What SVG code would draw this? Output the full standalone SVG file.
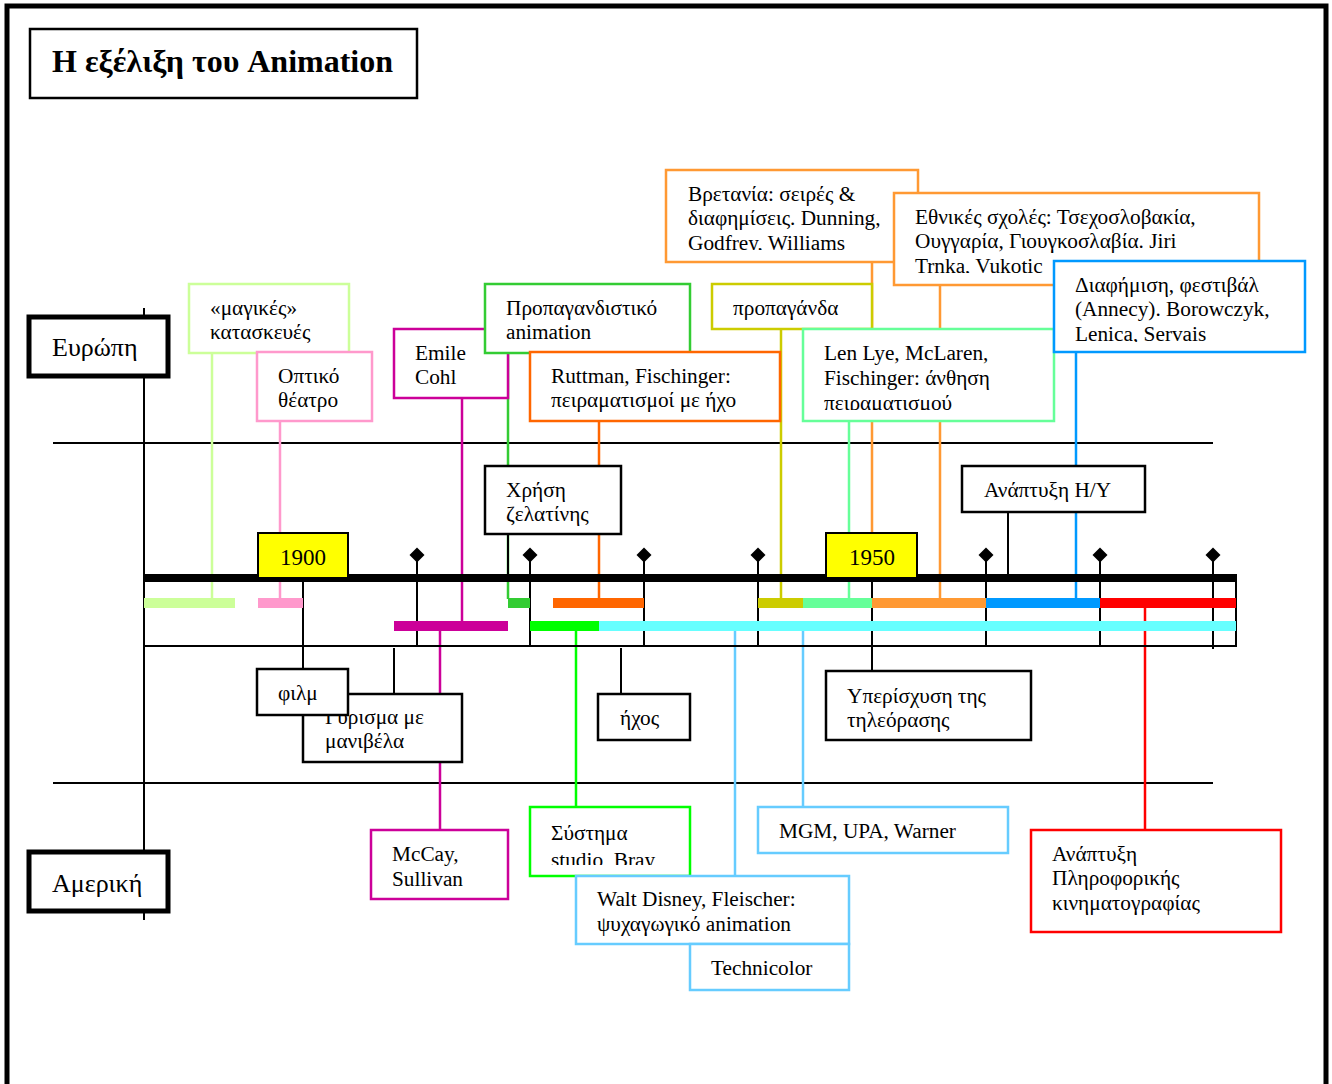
<svg xmlns="http://www.w3.org/2000/svg" width="1332" height="1084" viewBox="0 0 1332 1084">
<style>
text{font-family:"Liberation Serif","Times New Roman",serif;font-size:21.3px;fill:#000}
.box{fill:#fff;stroke-width:2.5}
.bk{stroke:#000}
.thick{stroke:#000;stroke-width:5;fill:#fff}
.ln{fill:none;stroke-width:2.5}
.kl{stroke:#000;stroke-width:2;fill:none}
.yr{fill:#ffff00;stroke:#000;stroke-width:2}
</style>
<defs>
<clipPath id="cBr" clipPathUnits="userSpaceOnUse"><rect x="666" y="170" width="252" height="80"/></clipPath>
<clipPath id="cEt" clipPathUnits="userSpaceOnUse"><rect x="894" y="193" width="365" height="80"/></clipPath>
<clipPath id="cDi" clipPathUnits="userSpaceOnUse"><rect x="1054" y="261" width="251" height="81"/></clipPath>
<clipPath id="cLe" clipPathUnits="userSpaceOnUse"><rect x="803" y="329" width="251" height="81"/></clipPath>
<clipPath id="cSy" clipPathUnits="userSpaceOnUse"><rect x="530" y="807" width="160" height="58"/></clipPath>
</defs>
<rect width="1332" height="1084" fill="#fff"/>
<path d="M7,1084 V6 H1326 V1084" fill="none" stroke="#000" stroke-width="5"/>

<g id="title"><rect x="30" y="29" width="387" height="69" fill="#fff" stroke="#000" stroke-width="2.5"/>
<text x="52" y="72" style="font-weight:bold;font-size:32px">Η εξέλιξη του Animation</text></g>

<g id="connectors">
<line x1="144" y1="308" x2="144" y2="920" class="kl"/>
<line x1="53" y1="443" x2="1213" y2="443" class="kl"/>
<line x1="53" y1="783" x2="1213" y2="783" class="kl"/>
<line x1="212" y1="353" x2="212" y2="599" class="ln" stroke="#ccff99"/>
<line x1="280" y1="421" x2="280" y2="599" class="ln" stroke="#ff99cc"/>
<line x1="462" y1="398" x2="462" y2="622" class="ln" stroke="#cc0099"/>
<line x1="440" y1="630" x2="440" y2="830" class="ln" stroke="#cc0099"/>
<line x1="508" y1="353" x2="508" y2="599" class="ln" stroke="#33cc33"/>
<line x1="599" y1="421" x2="599" y2="599" class="ln" stroke="#ff6600"/>
<line x1="872" y1="262" x2="872" y2="533" class="ln" stroke="#ff9933"/>
<line x1="940" y1="285" x2="940" y2="599" class="ln" stroke="#ff9933"/>
<line x1="781" y1="329" x2="781" y2="599" class="ln" stroke="#cccc00"/>
<line x1="849" y1="421" x2="849" y2="599" class="ln" stroke="#66ff99"/>
<line x1="1076" y1="352" x2="1076" y2="599" class="ln" stroke="#0099ff"/>
<line x1="1145" y1="607" x2="1145" y2="830" class="ln" stroke="#ff0000"/>
<line x1="576" y1="630" x2="576" y2="807" class="ln" stroke="#00ff00"/>
<line x1="735" y1="630" x2="735" y2="876" class="ln" stroke="#66ccff"/>
<line x1="803" y1="630" x2="803" y2="807" class="ln" stroke="#66ccff"/>
<line x1="303" y1="578" x2="303" y2="669" class="kl"/>
<line x1="394" y1="648" x2="394" y2="694" class="kl"/>
<line x1="621" y1="648" x2="621" y2="694" class="kl"/>
<line x1="872" y1="578" x2="872" y2="671" class="kl"/>
<line x1="508" y1="534" x2="508" y2="578" class="kl"/>
<line x1="1008" y1="512" x2="1008" y2="578" class="kl"/>
<g class="kl">
<line x1="417" y1="555" x2="417" y2="646"/>
<line x1="530" y1="555" x2="530" y2="646"/>
<line x1="644" y1="555" x2="644" y2="646"/>
<line x1="758" y1="555" x2="758" y2="646"/>
<line x1="986" y1="555" x2="986" y2="646"/>
<line x1="1100" y1="555" x2="1100" y2="646"/>
<line x1="1213" y1="555" x2="1213" y2="649"/>
</g>
<g fill="#000">
<polygon points="417,547.5 424.5,555 417,562.5 409.5,555"/>
<polygon points="530,547.5 537.5,555 530,562.5 522.5,555"/>
<polygon points="644,547.5 651.5,555 644,562.5 636.5,555"/>
<polygon points="758,547.5 765.5,555 758,562.5 750.5,555"/>
<polygon points="986,547.5 993.5,555 986,562.5 978.5,555"/>
<polygon points="1100,547.5 1107.5,555 1100,562.5 1092.5,555"/>
<polygon points="1213,547.5 1220.5,555 1213,562.5 1205.5,555"/>
</g>
<rect x="144" y="574" width="1093" height="8" fill="#000"/>
<line x1="144" y1="646" x2="1237" y2="646" class="kl"/>
<line x1="1236" y1="578" x2="1236" y2="647" class="kl"/>
<g>
<rect x="144" y="598" width="91" height="10" fill="#ccff99"/>
<rect x="258" y="598" width="45" height="10" fill="#ff99cc"/>
<rect x="508" y="598" width="22" height="10" fill="#33cc33"/>
<rect x="553" y="598" width="91" height="10" fill="#ff6600"/>
<rect x="758" y="598" width="45" height="10" fill="#cccc00"/>
<rect x="803" y="598" width="69" height="10" fill="#66ff99"/>
<rect x="872" y="598" width="114" height="10" fill="#ff9933"/>
<rect x="986" y="598" width="114" height="10" fill="#0099ff"/>
<rect x="1100" y="598" width="136" height="10" fill="#ff0000"/>
<rect x="394" y="621" width="114" height="10" fill="#cc0099"/>
<rect x="530" y="621" width="69" height="10" fill="#00ff00"/>
<rect x="599" y="621" width="637" height="10" fill="#66ffff"/>
</g>
</g>

<g id="europe"><rect x="29" y="317" width="139" height="59" class="thick"/><text x="52" y="356" style="font-size:26px">Ευρώπη</text></g>
<g id="america"><rect x="29" y="852" width="139" height="59" class="thick"/><text x="52" y="892" style="font-size:26px">Αμερική</text></g>

<g id="magikes"><rect x="189" y="284" width="160" height="69" class="box" stroke="#ccff99"/><text x="210" y="315">«μαγικές»</text><text x="210" y="339">κατασκευές</text></g>
<g id="optiko"><rect x="257" y="352" width="115" height="69" class="box" stroke="#ff99cc"/><text x="278" y="383">Οπτικό</text><text x="278" y="407">θέατρο</text></g>
<g id="cohl"><rect x="394" y="329" width="114" height="69" class="box" stroke="#cc0099"/><text x="415" y="360">Emile</text><text x="415" y="384">Cohl</text></g>
<g id="propag-anim"><rect x="485" y="284" width="205" height="69" class="box" stroke="#33cc33"/><text x="506" y="315">Προπαγανδιστικό</text><text x="506" y="339">animation</text></g>
<g id="ruttman"><rect x="530" y="352" width="250" height="69" class="box" stroke="#ff6600"/><text x="551" y="383">Ruttman, Fischinger:</text><text x="551" y="407">πειραματισμοί με ήχο</text></g>
<g id="bretania"><rect x="666" y="170" width="252" height="92" class="box" stroke="#ff9933"/><g clip-path="url(#cBr)"><text x="688" y="201">Βρετανία: σειρές &amp;</text><text x="688" y="225">διαφημίσεις. Dunning,</text><text x="688" y="250">Godfrey, Williams</text></g></g>
<g id="ethnikes"><rect x="894" y="193" width="365" height="92" class="box" stroke="#ff9933"/><g clip-path="url(#cEt)"><text x="915" y="224">Εθνικές σχολές: Τσεχοσλοβακία,</text><text x="915" y="248">Ουγγαρία, Γιουγκοσλαβία. Jiri</text><text x="915" y="273">Trnka, Vukotic</text></g></g>
<g id="propaganda"><rect x="712" y="284" width="160" height="45" class="box" stroke="#cccc00"/><text x="733" y="315">προπαγάνδα</text></g>
<g id="lenlye"><rect x="803" y="329" width="251" height="92" class="box" stroke="#66ff99"/><g clip-path="url(#cLe)"><text x="824" y="360">Len Lye, McLaren,</text><text x="824" y="385">Fischinger: άνθηση</text><text x="824" y="410">πειραματισμού</text></g></g>
<g id="diafimisi"><rect x="1054" y="261" width="251" height="91" class="box" stroke="#0099ff"/><g clip-path="url(#cDi)"><text x="1075" y="292">Διαφήμιση, φεστιβάλ</text><text x="1075" y="316">(Annecy). Borowczyk,</text><text x="1075" y="341">Lenica, Servais</text></g></g>
<g id="xrisi"><rect x="485" y="466" width="136" height="68" class="box bk"/><text x="506" y="497">Χρήση</text><text x="506" y="521">ζελατίνης</text></g>
<g id="hy"><rect x="962" y="466" width="183" height="46" class="box bk"/><text x="984" y="497">Ανάπτυξη Η/Υ</text></g>
<g id="y1900"><rect x="258" y="533" width="90" height="45" class="yr"/><text x="303" y="565" text-anchor="middle" style="font-size:23px">1900</text></g>
<g id="y1950"><rect x="826" y="533" width="91" height="45" class="yr"/><text x="872" y="565" text-anchor="middle" style="font-size:23px">1950</text></g>
<g id="gyrisma"><rect x="303" y="694" width="159" height="68" class="box bk"/><text x="325" y="724">Γύρισμα με</text><text x="325" y="748">μανιβέλα</text></g>
<g id="film"><rect x="257" y="669" width="91" height="46" class="box bk"/><text x="278" y="700">φιλμ</text></g>
<g id="ixos"><rect x="598" y="694" width="92" height="46" class="box bk"/><text x="620" y="725">ήχος</text></g>
<g id="tv"><rect x="826" y="671" width="205" height="69" class="box bk"/><text x="847" y="703">Υπερίσχυση της</text><text x="847" y="727">τηλεόρασης</text></g>
<g id="mccay"><rect x="371" y="830" width="137" height="69" class="box" stroke="#cc0099"/><text x="392" y="861">McCay,</text><text x="392" y="886">Sullivan</text></g>
<g id="bray"><rect x="530" y="807" width="160" height="69" class="box" stroke="#00ff00"/><g clip-path="url(#cSy)"><text x="551" y="840">Σύστημα</text><text x="551" y="867">studio, Bray</text></g></g>
<g id="disney"><rect x="576" y="876" width="273" height="68" class="box" stroke="#66ccff"/><text x="597" y="906">Walt Disney, Fleischer:</text><text x="597" y="931">ψυχαγωγικό animation</text></g>
<g id="technicolor"><rect x="690" y="944" width="159" height="46" class="box" stroke="#66ccff"/><text x="711" y="975">Technicolor</text></g>
<g id="mgm"><rect x="758" y="807" width="250" height="46" class="box" stroke="#66ccff"/><text x="779" y="838">MGM, UPA, Warner</text></g>
<g id="pliroforiki"><rect x="1031" y="830" width="250" height="102" class="box" stroke="#ff0000"/><text x="1052" y="861">Ανάπτυξη</text><text x="1052" y="885">Πληροφορικής</text><text x="1052" y="910">κινηματογραφίας</text></g>
</svg>
